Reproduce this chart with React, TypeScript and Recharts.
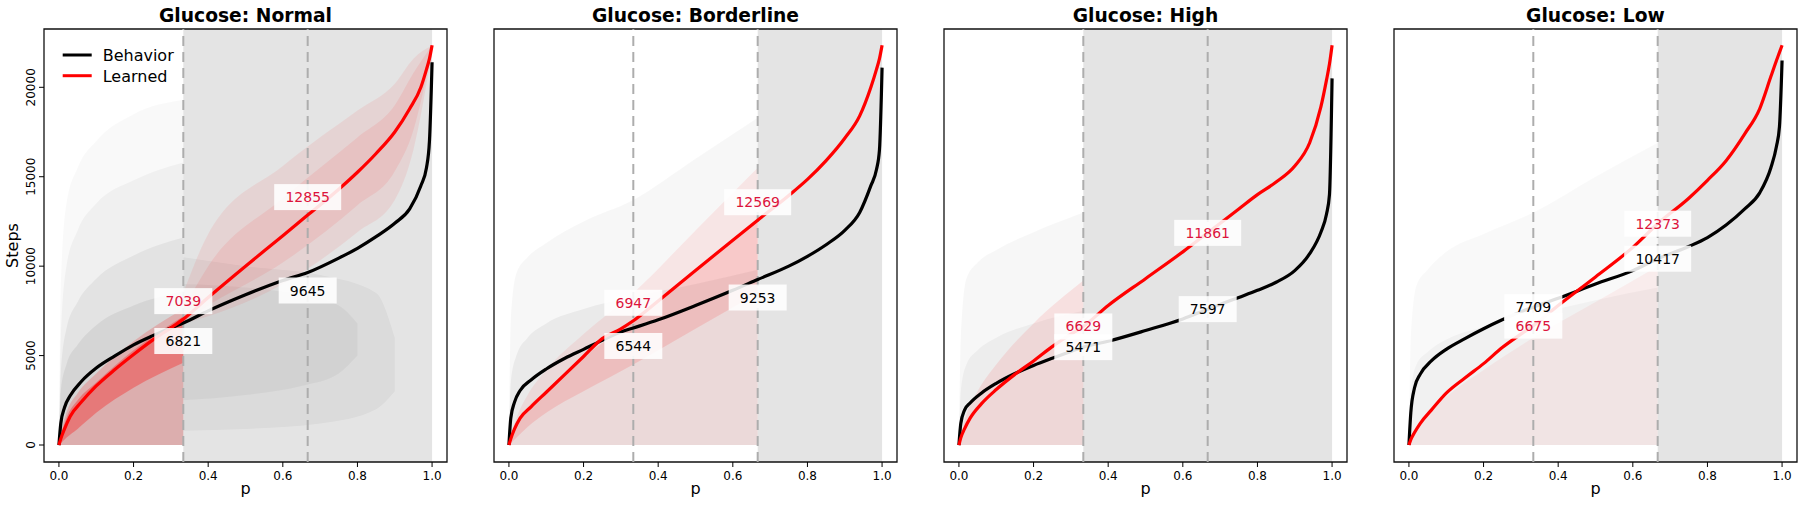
import React from 'react';
import {
  ComposedChart, Line, Area, XAxis, YAxis, ReferenceLine, ReferenceArea, Scatter, Customized,
} from 'recharts';

const FONT = '"DejaVu Sans", sans-serif';

// ---------- categories / ticks ----------
const titles = ['Glucose: Normal', 'Glucose: Borderline', 'Glucose: High', 'Glucose: Low'];
const xTicks = [0, 0.2, 0.4, 0.6, 0.8, 1.0];
const yTicks = [0, 5000, 10000, 15000, 20000];
const markP = [1 / 3, 2 / 3];
const shadeStart = [1 / 3, 2 / 3, 1 / 3, 2 / 3];
const seriesNames = ['Behavior', 'Learned'];

// ---------- main curves (p grid shared) ----------
const pGrid = [0, 0.005, 0.015, 0.03, 0.06, 0.1, 0.15, 0.2, 0.25, 0.3, 1 / 3, 0.4, 0.5, 0.6, 2 / 3, 0.75, 0.8, 0.85, 0.9, 0.94, 0.97, 0.985, 0.993, 1.0];

const behaviorNormal = [0, 1200, 2100, 2750, 3550, 4300, 4980, 5600, 6100, 6550, 6821, 7500, 8400, 9200, 9645, 10450, 11000, 11650, 12400, 13200, 14500, 15500, 17000, 21400];
const learnedNormal = [0, 350, 900, 1600, 2400, 3300, 4220, 5060, 5850, 6550, 7039, 8250, 10000, 11700, 12855, 14300, 15250, 16300, 17500, 18800, 20000, 21000, 21600, 22350];

const behaviorBorderline = [0, 1500, 2400, 3050, 3650, 4250, 4850, 5350, 5850, 6320, 6544, 7000, 7800, 8650, 9253, 10000, 10550, 11200, 12000, 13000, 14500, 15400, 16500, 21100];
const learnedBorderline = [0, 350, 900, 1500, 2150, 2950, 3950, 4950, 5950, 6500, 6947, 8050, 9760, 11450, 12569, 13950, 14850, 15900, 17150, 18400, 20000, 21000, 21600, 22350];

const behaviorHigh = [0, 1200, 1950, 2350, 2900, 3450, 4000, 4450, 4850, 5230, 5471, 5800, 6400, 7050, 7597, 8250, 8650, 9100, 9750, 10700, 11900, 12900, 14000, 20500];
const learnedHigh = [0, 400, 900, 1500, 2300, 3100, 3950, 4700, 5500, 6200, 6629, 7800, 9300, 10800, 11861, 13200, 14000, 14700, 15600, 16900, 18900, 20400, 21300, 22350];

const behaviorLow = [0, 1800, 3200, 3950, 4700, 5350, 5950, 6500, 7000, 7450, 7709, 8200, 9000, 9750, 10417, 11100, 11600, 12300, 13200, 14100, 15500, 16700, 17800, 21500];
const learnedLow = [0, 300, 700, 1200, 1950, 2900, 3750, 4550, 5450, 6200, 6675, 7800, 9400, 11050, 12373, 13800, 14800, 15900, 17400, 18800, 20600, 21500, 21950, 22350];

// ---------- annotated values at p = 1/3, 2/3 ----------
const labelBehavior = [[6821, 9645], [6544, 9253], [5471, 7597], [7709, 10417]];
const labelLearned = [[7039, 12855], [6947, 12569], [6629, 11861], [6675, 12373]];

// ---------- faint individual-run envelopes ----------
const fanP1 = [0, 0.005, 0.02, 0.05, 0.1, 0.2, 1 / 3];
const normalGrayOuter = [0, 9000, 13500, 15500, 17000, 18500, 19300];
const normalGrayMid = [0, 6000, 10000, 12000, 13500, 14800, 15800];
const normalGrayInner = [0, 4000, 6500, 8000, 9300, 10600, 11600];
const normalGrayCore = [0, 3000, 4500, 5600, 6700, 7800, 8600];
const normalRedFan = [0, 600, 1800, 2900, 4000, 5800, 7600];
const normalRedCoreLow = [0, 100, 400, 900, 1800, 3200, 4600];
const normalRedCoreHigh = [0, 500, 1500, 2500, 3500, 5300, 7200];

const normalShadeP = [1 / 3, 0.4, 0.6, 0.8, 0.9, 0.95, 1.0];
const normalRedLow = [6800, 7200, 9000, 11900, 13700, 16500, 22000];
const normalRedHigh = [8500, 11800, 15600, 18700, 20200, 21600, 22350];
const normalRedInnerLow = [6900, 7800, 10200, 13400, 15300, 17600, 22100];
const normalRedInnerHigh = [7600, 10000, 13800, 17200, 19000, 20800, 22350];
const normalGrayShadeP = [1 / 3, 0.5, 0.7, 0.85, 0.9];
const normalGrayShadeLow = [800, 900, 1200, 2000, 3000];
const normalGrayShadeHigh = [10500, 10000, 9500, 8500, 6000];
const normalGrayShadeInnerP = [1 / 3, 0.5, 0.65, 0.75, 0.8];
const normalGrayShadeInnerLow = [2500, 2800, 3300, 4000, 5000];
const normalGrayShadeInnerHigh = [9000, 8800, 8400, 7800, 6800];

const fanP2 = [0, 0.005, 0.02, 0.05, 0.1, 0.2, 1 / 3, 0.5, 2 / 3];
const borderGrayOuter = [0, 7000, 9600, 10500, 11300, 12500, 13700, 16000, 18300];
const borderGrayInner = [0, 3500, 5000, 6000, 6800, 7600, 8300, 9000, 9800];
const borderRedFan = [0, 500, 1500, 2800, 4200, 6200, 8500, 12000, 15500];
const borderRedCoreLow = [0, 100, 400, 1000, 1800, 3000, 4500, 6500, 8500];
const borderRedCoreHigh = [0, 350, 1200, 2100, 3000, 4900, 6900, 9800, 12600];

const fanP3 = [0, 0.005, 0.02, 0.05, 0.1, 0.2, 1 / 3];
const highGrayOuter = [0, 6000, 9300, 10200, 10900, 11900, 13000];
const highGrayInner = [0, 3000, 4500, 5300, 6000, 6800, 7500];
const highRedFan = [0, 500, 1700, 3000, 4500, 6800, 9200];

const fanP4 = [0, 0.005, 0.02, 0.05, 0.1, 0.2, 1 / 3, 0.5, 2 / 3];
const lowGrayOuter = [0, 6000, 8900, 9800, 10800, 11800, 13000, 15000, 16900];
const lowGrayInner = [0, 3000, 4500, 5200, 5900, 6600, 7300, 8100, 8800];
const lowRedFan = [0, 300, 900, 1700, 2700, 4200, 6000, 8000, 10000];

// ---------- helpers ----------
type Pt = { p: number; v: number };
const zip = (ps: number[], vs: number[]): Pt[] => ps.map((p, i) => ({ p, v: vs[i] }));
const zipR = (ps: number[], lo: number[], hi: number[]) => ps.map((p, i) => ({ p, r: [lo[i], hi[i]] }));

const X_DOMAIN: [number, number] = [-0.04, 1.04];
const Y_DOMAIN: [number, number] = [-950, 23260];
const RED = '#ff0000';
const LABEL_RED = '#dc143c';

type Band = { data: any[]; key: string; fill: string; opacity: number };

const panelBands: Band[][] = [
  [
    { data: zipR(normalGrayShadeP, normalGrayShadeLow, normalGrayShadeHigh), key: 'r', fill: '#000', opacity: 0.04 },
    { data: zipR(normalGrayShadeInnerP, normalGrayShadeInnerLow, normalGrayShadeInnerHigh), key: 'r', fill: '#000', opacity: 0.04 },
    { data: zipR(normalShadeP, normalRedLow, normalRedHigh), key: 'r', fill: RED, opacity: 0.07 },
    { data: zipR(normalShadeP, normalRedInnerLow, normalRedInnerHigh), key: 'r', fill: RED, opacity: 0.08 },
    { data: zip(fanP1, normalGrayOuter), key: 'v', fill: '#000', opacity: 0.025 },
    { data: zip(fanP1, normalGrayMid), key: 'v', fill: '#000', opacity: 0.035 },
    { data: zip(fanP1, normalGrayInner), key: 'v', fill: '#000', opacity: 0.05 },
    { data: zip(fanP1, normalGrayCore), key: 'v', fill: '#000', opacity: 0.06 },
    { data: zip(fanP1, normalRedFan), key: 'v', fill: RED, opacity: 0.18 },
    { data: zipR(fanP1, normalRedCoreLow, normalRedCoreHigh), key: 'r', fill: RED, opacity: 0.3 },
  ],
  [
    { data: zip(fanP2, borderGrayOuter), key: 'v', fill: '#000', opacity: 0.03 },
    { data: zip(fanP2, borderGrayInner), key: 'v', fill: '#000', opacity: 0.05 },
    { data: zip(fanP2, borderRedFan), key: 'v', fill: RED, opacity: 0.07 },
    { data: zipR(fanP2, borderRedCoreLow, borderRedCoreHigh), key: 'r', fill: RED, opacity: 0.12 },
  ],
  [
    { data: zip(fanP3, highGrayOuter), key: 'v', fill: '#000', opacity: 0.03 },
    { data: zip(fanP3, highGrayInner), key: 'v', fill: '#000', opacity: 0.04 },
    { data: zip(fanP3, highRedFan), key: 'v', fill: RED, opacity: 0.09 },
  ],
  [
    { data: zip(fanP4, lowGrayOuter), key: 'v', fill: '#000', opacity: 0.025 },
    { data: zip(fanP4, lowGrayInner), key: 'v', fill: '#000', opacity: 0.03 },
    { data: zip(fanP4, lowRedFan), key: 'v', fill: RED, opacity: 0.05 },
  ],
];

const curves = [
  [behaviorNormal, learnedNormal],
  [behaviorBorderline, learnedBorderline],
  [behaviorHigh, learnedHigh],
  [behaviorLow, learnedLow],
];

// label vertical offsets (px) per panel: [behavior, learned]
const labelOffsets = [[18, -18], [18, -18], [0, 0], [0, 0]];

const makeLabelShape = (color: string, dy: number) => (props: any) => {
  const { cx, cy, payload } = props;
  const txt = String(payload.v);
  const w = txt.length * 9 + 22;
  const h = 26;
  const yc = cy + dy;
  return (
    <g>
      <rect x={cx - w / 2} y={yc - h / 2} width={w} height={h} fill="#fff" fillOpacity={0.88} />
      <text x={cx} y={yc + 5} textAnchor="middle" fontSize={14} fontFamily={FONT} fill={color}>{txt}</text>
    </g>
  );
};

const YTick = (props: any) => {
  const { y, payload } = props;
  return (
    <text x={35} y={y} transform={`rotate(-90 35 ${y})`} textAnchor="middle" fontSize={12} fontFamily={FONT} fill="#000">
      {payload.value}
    </text>
  );
};

const Panel = ({ idx }: { idx: number }) => {
  const first = idx === 0;
  const [beh, lrn] = curves[idx];
  const [offB, offL] = labelOffsets[idx];
  const shadeData = [
    { p: shadeStart[idx], v: Y_DOMAIN[1] },
    { p: 1.0, v: Y_DOMAIN[1] },
  ];
  return (
    <div style={{ position: 'absolute', left: idx * 450, top: 0 }}>
      <ComposedChart width={450} height={506} margin={{ top: 29, right: 3, bottom: 0, left: first ? 0 : 44 }}>
        <XAxis
          type="number"
          dataKey="p"
          domain={X_DOMAIN}
          allowDataOverflow
          ticks={xTicks}
          tickFormatter={(v: number) => v.toFixed(1)}
          height={44}
          tickSize={5}
          tickMargin={4}
          axisLine={false}
          tickLine={{ stroke: '#000', strokeWidth: 1 }}
          tick={{ fontSize: 12, fill: '#000', fontFamily: FONT }}
          interval={0}
          label={{
            content: (p: any) => (
              <text x={p.viewBox.x + p.viewBox.width / 2} y={p.viewBox.y + 32} textAnchor="middle" fontSize={16} fontFamily={FONT} fill="#000">p</text>
            ),
          }}
        />
        {first ? (
          <YAxis
            type="number"
            domain={Y_DOMAIN}
            allowDataOverflow
            ticks={yTicks}
            width={44}
            tickSize={5}
            axisLine={false}
            tickLine={{ stroke: '#000', strokeWidth: 1 }}
            tick={<YTick />}
            interval={0}
            label={{
              content: (p: any) => {
                const cy = p.viewBox.y + p.viewBox.height / 2;
                return (
                  <text x={18} y={cy} transform={`rotate(-90 18 ${cy})`} textAnchor="middle" fontSize={16} fontFamily={FONT} fill="#000">Steps</text>
                );
              },
            }}
          />
        ) : (
          <YAxis type="number" domain={Y_DOMAIN} allowDataOverflow hide />
        )}

        <Area data={shadeData} dataKey="v" type="linear" baseValue={Y_DOMAIN[0]} stroke="none" fill="#e4e4e4" fillOpacity={1} isAnimationActive={false} />

        {panelBands[idx].map((b, i) => (
          <Area key={i} data={b.data} dataKey={b.key} type="monotone" stroke="none" fill={b.fill} fillOpacity={b.opacity} isAnimationActive={false} />
        ))}

        {markP.map((p, i) => (
          <ReferenceLine key={i} x={p} stroke="#adadad" strokeWidth={2} strokeDasharray="10 6" />
        ))}

        <Line data={zip(pGrid, beh)} dataKey="v" name={seriesNames[0]} type="monotone" stroke="#000" strokeWidth={3.2} dot={false} isAnimationActive={false} />
        <Line data={zip(pGrid, lrn)} dataKey="v" name={seriesNames[1]} type="monotone" stroke={RED} strokeWidth={3.2} dot={false} isAnimationActive={false} />

        <Scatter data={zip(markP, labelLearned[idx])} dataKey="v" shape={makeLabelShape(LABEL_RED, offL)} isAnimationActive={false} />
        <Scatter data={zip(markP, labelBehavior[idx])} dataKey="v" shape={makeLabelShape('#000', offB)} isAnimationActive={false} />

        <ReferenceArea x1={X_DOMAIN[0]} x2={X_DOMAIN[1]} y1={Y_DOMAIN[0]} y2={Y_DOMAIN[1]} fill="none" fillOpacity={0} stroke="#111" strokeWidth={1.3} ifOverflow="visible" />

        <Customized
          component={() => (
            <g>
              <text x={245.5} y={22} textAnchor="middle" fontSize={18.7} fontWeight="bold" fontFamily={FONT} fill="#000">{titles[idx]}</text>
              {first && (
                <g>
                  <line x1={62.7} x2={91.7} y1={55} y2={55} stroke="#000" strokeWidth={3} />
                  <text x={102.7} y={61} fontSize={16} fontFamily={FONT} fill="#000">{seriesNames[0]}</text>
                  <line x1={62.7} x2={91.7} y1={75.7} y2={75.7} stroke={RED} strokeWidth={3} />
                  <text x={102.7} y={81.7} fontSize={16} fontFamily={FONT} fill="#000">{seriesNames[1]}</text>
                </g>
              )}
            </g>
          )}
        />
      </ComposedChart>
    </div>
  );
}

export default function App() {
  return (
    <div style={{ position: 'absolute', left: 0, top: 0, width: 1800, height: 506, background: '#fff', fontFamily: FONT }}>
      {[0, 1, 2, 3].map((i) => (
        <Panel key={i} idx={i} />
      ))}
    </div>
  );
}
